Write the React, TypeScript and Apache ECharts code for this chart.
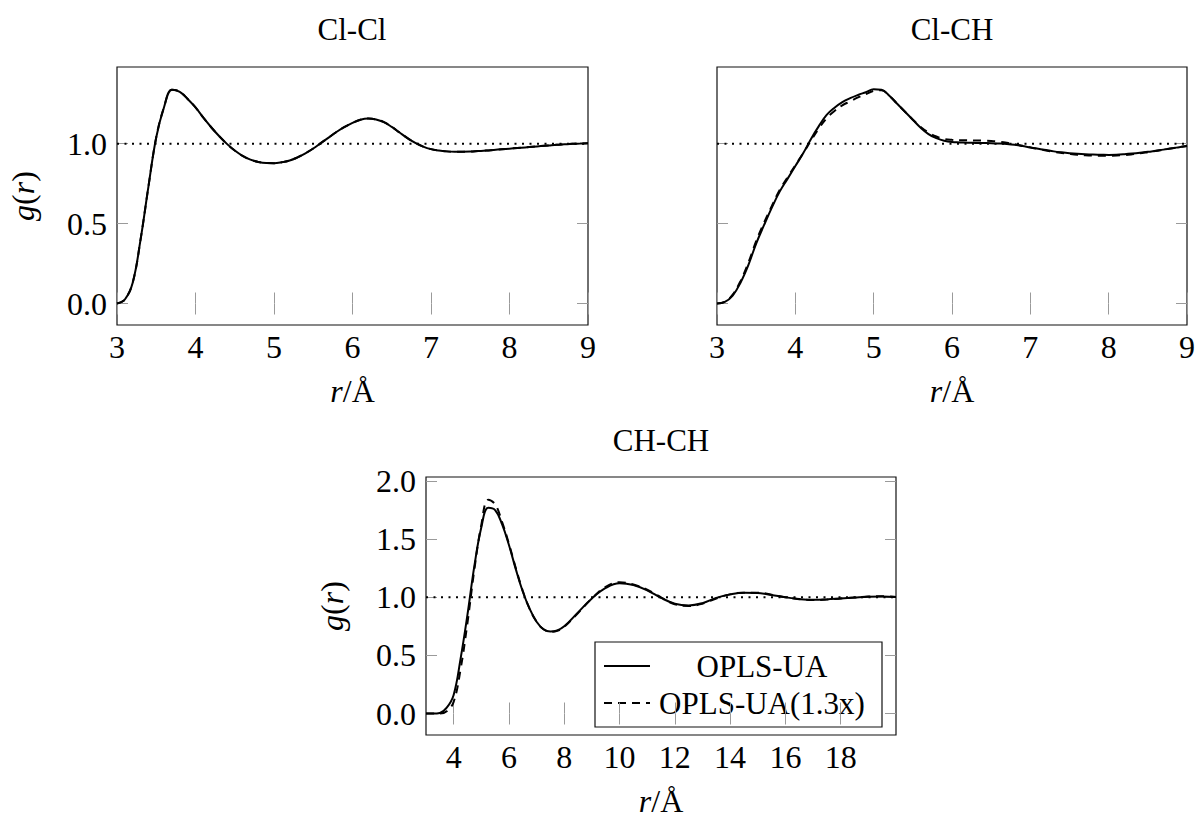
import React, { useEffect, useRef } from "react";
import * as echarts from "echarts";

// ---------- data ----------
const topR = [
  3.0, 3.1, 3.2, 3.3, 3.4, 3.5, 3.6, 3.7, 3.8, 3.9,
  4.0, 4.1, 4.2, 4.3, 4.4, 4.5, 4.6, 4.7, 4.8, 4.9,
  5.0, 5.1, 5.2, 5.3, 5.4, 5.5, 5.6, 5.7, 5.8, 5.9,
  6.0, 6.1, 6.2, 6.3, 6.4, 6.5, 6.6, 6.7, 6.8, 6.9,
  7.0, 7.1, 7.2, 7.3, 7.4, 7.5, 7.6, 7.7, 7.8, 7.9,
  8.0, 8.1, 8.2, 8.3, 8.4, 8.5, 8.6, 8.7, 8.8, 8.9,
  9.0,
];

const clclSolid = [
  0.000, 0.025, 0.130, 0.400, 0.730, 1.040, 1.230, 1.338, 1.325, 1.280,
  1.227, 1.163, 1.103, 1.048, 0.999, 0.957, 0.924, 0.900, 0.886, 0.879,
  0.878, 0.884, 0.895, 0.915, 0.940, 0.970, 1.005, 1.040, 1.075, 1.105,
  1.130, 1.150, 1.158, 1.152, 1.135, 1.105, 1.070, 1.035, 1.005, 0.982,
  0.966, 0.957, 0.952, 0.950, 0.950, 0.951, 0.954, 0.957, 0.961, 0.965,
  0.969, 0.973, 0.977, 0.981, 0.985, 0.989, 0.993, 0.996, 0.999, 1.001,
  1.003,
];

const clclDashed = [
  0.000, 0.025, 0.130, 0.400, 0.730, 1.040, 1.230, 1.338, 1.325, 1.280,
  1.227, 1.163, 1.103, 1.048, 0.999, 0.957, 0.924, 0.900, 0.886, 0.879,
  0.878, 0.884, 0.895, 0.915, 0.940, 0.970, 1.005, 1.040, 1.075, 1.105,
  1.130, 1.150, 1.158, 1.152, 1.135, 1.105, 1.070, 1.035, 1.005, 0.982,
  0.966, 0.957, 0.952, 0.950, 0.950, 0.951, 0.954, 0.957, 0.961, 0.965,
  0.969, 0.973, 0.977, 0.981, 0.985, 0.989, 0.993, 0.996, 0.999, 1.001,
  1.003,
];

const clchSolid = [
  0.000, 0.010, 0.050, 0.130, 0.240, 0.375, 0.490, 0.600, 0.700, 0.780,
  0.860, 0.940, 1.030, 1.110, 1.180, 1.225, 1.260, 1.285, 1.305, 1.322,
  1.340, 1.338, 1.300, 1.250, 1.200, 1.150, 1.100, 1.060, 1.035, 1.018,
  1.010, 1.008, 1.006, 1.005, 1.004, 1.003, 1.001, 0.998, 0.993, 0.985,
  0.976, 0.968, 0.960, 0.952, 0.946, 0.941, 0.937, 0.934, 0.932, 0.931,
  0.930, 0.931, 0.934, 0.938, 0.943, 0.949, 0.956, 0.963, 0.971, 0.978,
  0.985,
];

const clchDashed = [
  0.000, 0.010, 0.055, 0.140, 0.255, 0.390, 0.505, 0.610, 0.710, 0.790,
  0.865, 0.940, 1.020, 1.095, 1.160, 1.205, 1.240, 1.265, 1.290, 1.310,
  1.330, 1.334, 1.300, 1.250, 1.200, 1.150, 1.105, 1.070, 1.045, 1.030,
  1.024, 1.022, 1.021, 1.020, 1.019, 1.017, 1.013, 1.006, 0.997, 0.987,
  0.977, 0.967, 0.958, 0.949, 0.942, 0.936, 0.931, 0.928, 0.926, 0.925,
  0.925, 0.926, 0.929, 0.934, 0.940, 0.947, 0.954, 0.962, 0.970, 0.978,
  0.985,
];

const chchR = [
  3.0, 3.25, 3.5, 3.75, 4.0, 4.25, 4.5, 4.75, 5.0, 5.25,
  5.5, 5.75, 6.0, 6.25, 6.5, 6.75, 7.0, 7.25, 7.5, 7.75,
  8.0, 8.5, 9.0, 9.5, 10.0, 10.5, 11.0, 11.5, 12.0, 12.5,
  13.0, 13.5, 14.0, 14.5, 15.0, 15.5, 16.0, 16.5, 17.0, 17.5,
  18.0, 18.5, 19.0, 19.5, 20.0,
];

const chchSolid = [
  0.000, 0.000, 0.005, 0.050, 0.160, 0.470, 0.850, 1.270, 1.600, 1.770,
  1.750, 1.630, 1.450, 1.240, 1.050, 0.900, 0.790, 0.725, 0.705, 0.715,
  0.750, 0.870, 0.990, 1.080, 1.120, 1.105, 1.060, 0.995, 0.945, 0.930,
  0.950, 0.995, 1.025, 1.040, 1.037, 1.020, 1.000, 0.985, 0.978, 0.982,
  0.990, 0.998, 1.005, 1.006, 1.002,
];

const chchDashed = [
  0.000, 0.000, 0.000, 0.020, 0.100, 0.380, 0.780, 1.240, 1.620, 1.840,
  1.800, 1.650, 1.460, 1.250, 1.055, 0.900, 0.790, 0.725, 0.703, 0.712,
  0.745, 0.865, 0.990, 1.090, 1.130, 1.110, 1.065, 1.000, 0.940, 0.925,
  0.945, 0.990, 1.025, 1.040, 1.040, 1.022, 1.000, 0.984, 0.976, 0.980,
  0.990, 0.998, 1.006, 1.008, 1.003,
];

const topXTicks = [3, 4, 5, 6, 7, 8, 9];
const bottomXTicks = [4, 6, 8, 10, 12, 14, 16, 18];
const topYTicks = [0, 0.5, 1.0];
const bottomYTicks = [0, 0.5, 1.0, 1.5, 2.0];
const refLevel = 1.0;

const titles = ["Cl-Cl", "Cl-CH", "CH-CH"];
const legendNames = ["OPLS-UA", "OPLS-UA(1.3x)"];

// ---------- styling ----------
const FONT = "Liberation Serif";
const FS = 31;
const TFS = 32;
const TICK_COLOR = "#9a9a9a";
const DASH = [8, 6];
const DOT = [2, 5.5];

function xPair(gi: number, min: number, max: number, ticks: number[], name: string) {
  const common = {
    type: "value",
    gridIndex: gi,
    min,
    max,
    splitLine: { show: false },
    axisLine: { show: false },
    axisTick: { inside: true, length: 11, customValues: ticks, lineStyle: { color: TICK_COLOR, width: 1 } },
  };
  return [
    {
      ...common,
      position: "bottom",
      axisLabel: {
        customValues: ticks,
        color: "#000",
        fontFamily: FONT,
        fontSize: TFS,
        margin: 6,
        formatter: (v: number) => String(v),
      },
      name,
      nameLocation: "middle",
      nameGap: 50,
      nameTextStyle: {
        color: "#000",
        fontFamily: FONT,
        fontSize: TFS,
        rich: { i: { fontStyle: "italic", fontFamily: FONT, fontSize: TFS, color: "#000" } },
      },
    },
    { ...common, position: "top", axisLabel: { show: false } },
  ];
}

function yPair(gi: number, min: number, max: number, ticks: number[], showLabels: boolean) {
  const common = {
    type: "value",
    gridIndex: gi,
    min,
    max,
    splitLine: { show: false },
    axisLine: { show: false },
    axisTick: { inside: true, length: 11, customValues: ticks, lineStyle: { color: TICK_COLOR, width: 1 } },
  };
  const main: any = {
    ...common,
    position: "left",
    axisLabel: showLabels
      ? {
          customValues: ticks,
          color: "#000",
          fontFamily: FONT,
          fontSize: TFS,
          margin: 10,
          formatter: (v: number) => v.toFixed(1),
        }
      : { show: false },
  };
  if (showLabels) {
    main.name = "{i|g}({i|r})";
    main.nameLocation = "middle";
    main.nameRotate = 90;
    main.nameGap = 78;
    main.nameTextStyle = {
      color: "#000",
      fontFamily: FONT,
      fontSize: TFS,
      rich: { i: { fontStyle: "italic", fontFamily: FONT, fontSize: TFS, color: "#000" } },
    };
  }
  return [main, { ...common, position: "right", axisLabel: { show: false } }];
}

function pairs(xs: number[], ys: number[]) {
  return xs.map((x, i) => [x, ys[i]]);
}

function curve(name: string, xi: number, yi: number, xs: number[], ys: number[], dashed: boolean) {
  return {
    name,
    type: "line",
    xAxisIndex: xi,
    yAxisIndex: yi,
    data: pairs(xs, ys),
    showSymbol: false,
    symbol: "none",
    smooth: 0.4,
    lineStyle: { color: "#000", width: 2, type: dashed ? DASH : "solid" },
    z: 3,
  };
}

function refLine(xi: number, yi: number, x0: number, x1: number) {
  return {
    type: "line",
    xAxisIndex: xi,
    yAxisIndex: yi,
    data: [
      [x0, refLevel],
      [x1, refLevel],
    ],
    showSymbol: false,
    symbol: "none",
    silent: true,
    lineStyle: { color: "#000", width: 2, type: DOT },
    z: 4,
  };
}

export default function App() {
  const ref = useRef<HTMLDivElement>(null);

  useEffect(() => {
    if (!ref.current) return;
    const chart = echarts.init(ref.current, undefined, { renderer: "svg" });

    const gridStyle = { show: true, borderColor: "#111", borderWidth: 1.2, backgroundColor: "transparent" };
    const topMin = -0.1345;
    const topMax = 1.48;
    const botMin = -0.185;
    const botMax = 2.035;

    const textStyle = (t: string) => ({
      text: t,
      fontFamily: FONT,
      fontSize: FS,
      fill: "#000",
      align: "center",
      verticalAlign: "middle",
    });

    const option: any = {
      animation: false,
      textStyle: { fontFamily: FONT },
      grid: [
        { left: 117, top: 67, width: 471, height: 258, ...gridStyle },
        { left: 717, top: 67, width: 470, height: 258, ...gridStyle },
        { left: 426, top: 477, width: 470, height: 258, ...gridStyle },
      ],
      xAxis: [
        ...xPair(0, 3, 9, topXTicks, "{i|r}/Å"),
        ...xPair(1, 3, 9, topXTicks, "{i|r}/Å"),
        ...xPair(2, 3, 20, bottomXTicks, "{i|r}/Å"),
      ],
      yAxis: [
        ...yPair(0, topMin, topMax, topYTicks, true),
        ...yPair(1, topMin, topMax, topYTicks, false),
        ...yPair(2, botMin, botMax, bottomYTicks, true),
      ],
      series: [
        curve(legendNames[0], 0, 0, topR, clclSolid, false),
        curve(legendNames[1], 0, 0, topR, clclDashed, true),
        refLine(0, 0, 3, 9),
        curve(legendNames[0], 2, 2, topR, clchSolid, false),
        curve(legendNames[1], 2, 2, topR, clchDashed, true),
        refLine(2, 2, 3, 9),
        curve(legendNames[0], 4, 4, chchR, chchSolid, false),
        curve(legendNames[1], 4, 4, chchR, chchDashed, true),
        refLine(4, 4, 3, 20),
      ],
      graphic: [
        { type: "text", x: 352, y: 29, style: textStyle(titles[0]) },
        { type: "text", x: 952, y: 29, style: textStyle(titles[1]) },
        { type: "text", x: 661, y: 440, style: textStyle(titles[2]) },
        {
          type: "group",
          z: 100,
          children: [
            {
              type: "rect",
              shape: { x: 595, y: 642, width: 287, height: 85 },
              style: { fill: "#fff", stroke: "#111", lineWidth: 1.2 },
            },
            {
              type: "line",
              shape: { x1: 604, y1: 666, x2: 650, y2: 666 },
              style: { stroke: "#000", lineWidth: 2 },
            },
            {
              type: "line",
              shape: { x1: 604, y1: 703, x2: 650, y2: 703 },
              style: { stroke: "#000", lineWidth: 2, lineDash: DASH },
            },
            { type: "text", x: 762, y: 666, style: textStyle(legendNames[0]) },
            { type: "text", x: 762, y: 703, style: textStyle(legendNames[1]) },
          ],
        },
      ],
    };

    chart.setOption(option);
    return () => chart.dispose();
  }, []);

  return (
    <div
      ref={ref}
      style={{ position: "absolute", left: 0, top: 0, width: 1198, height: 818, background: "#fff" }}
    />
  );
}
